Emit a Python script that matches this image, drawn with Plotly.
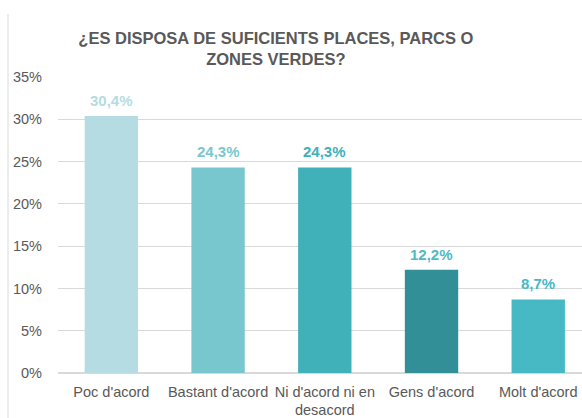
import plotly.graph_objects as go

categories = ["Poc d'acord", "Bastant d'acord", "Ni d'acord ni en<br>desacord", "Gens d'acord", "Molt d'acord"]
values = [30.4, 24.3, 24.3, 12.2, 8.7]
bar_colors = ["#B4DCE2", "#79C7CE", "#40B0B9", "#338F97", "#47B9C5"]
label_colors = ["#B4DCE2", "#79C7CE", "#40B0B9", "#4DBAC4", "#47B9C5"]
tick_values = [0, 5, 10, 15, 20, 25, 30, 35]
tick_labels = ["0%", "5%", "10%", "15%", "20%", "25%", "30%", "35%"]

labels = [f"{v:.1f}".replace(".", ",") + "%" for v in values]

fig = go.Figure(
    go.Bar(
        x=categories,
        y=values,
        marker=dict(color=bar_colors, line=dict(width=0)),
        hoverinfo="skip",
    )
)

# value labels above each bar
for cat, val, lab, col in zip(categories, values, labels, label_colors):
    fig.add_annotation(
        x=cat,
        y=val,
        text=f"<b>{lab}</b>",
        showarrow=False,
        yanchor="bottom",
        yshift=5,
        font=dict(family="Liberation Sans", size=15, color=col),
    )

fig.update_layout(
    width=582,
    height=418,
    paper_bgcolor="white",
    plot_bgcolor="white",
    margin=dict(l=58, r=0, t=77, b=45),
    bargap=0.5,
    showlegend=False,
    title=dict(
        text="<b>¿ES DISPOSA DE SUFICIENTS PLACES, PARCS O<br>ZONES VERDES?</b>",
        x=0.474,
        xanchor="center",
        y=0.895,
        yanchor="middle",
        font=dict(family="Liberation Sans", size=16.5, color="#595959"),
    ),
    xaxis=dict(
        range=[-0.5, 4.41],
        showgrid=False,
        showline=False,
        ticks="",
        ticklabelstandoff=8,
        tickfont=dict(family="Liberation Sans", size=14.5, color="#595959"),
        fixedrange=True,
    ),
    yaxis=dict(
        range=[0, 35],
        tickvals=tick_values,
        ticktext=tick_labels,
        showgrid=True,
        gridcolor="#D9D9D9",
        gridwidth=1,
        zeroline=True,
        zerolinecolor="#D9D9D9",
        showline=False,
        ticks="",
        ticklabelstandoff=15,
        tickfont=dict(family="Liberation Sans", size=14.5, color="#595959"),
        fixedrange=True,
    ),
    shapes=[
        dict(
            type="line",
            xref="paper",
            yref="paper",
            x0=-50 / 524,
            x1=-50 / 524,
            y0=-45 / 296,
            y1=(296 + 63) / 296,
            line=dict(color="#D9D9D9", width=1),
        )
    ],
)

fig.write_html("out.html")
